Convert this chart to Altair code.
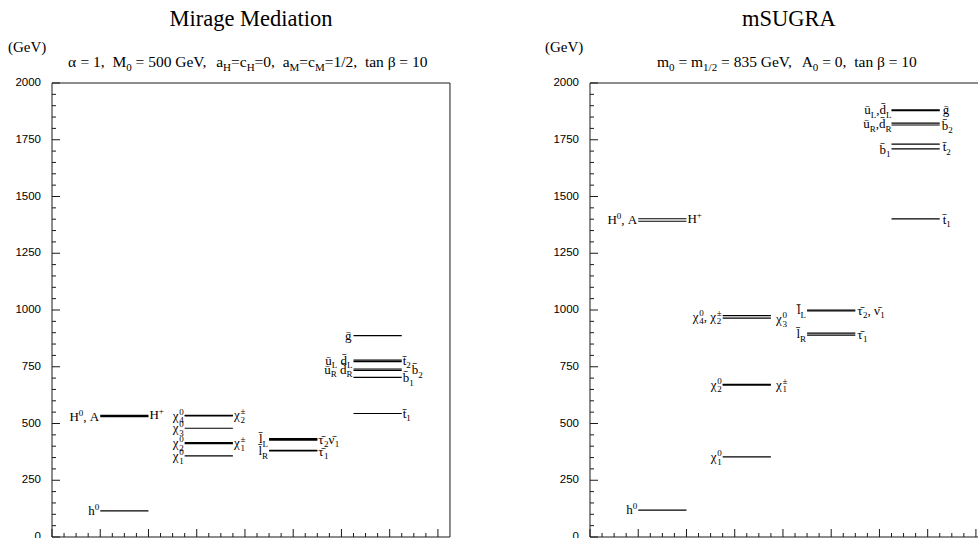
import unicodedata

import altair as alt
import pandas as pd

# ---------------------------------------------------------------- axes
Y_MAJOR = [0, 250, 500, 750, 1000, 1250, 1500, 1750, 2000]
Y_MINOR = [v for v in range(0, 2001, 50) if v % 250]
X_MAJOR = [0, 1, 2, 3, 4, 5, 6, 7, 8]
X_MINOR = [q / 4 for q in range(33) if q % 4]
PANEL_SPAN = 8.25          # x extent of one spectrum frame

# x spans of the four particle columns
GROUP_SPAN = {"higgs": (1.0, 2.0), "ino": (2.75, 3.75),
              "slepton": (4.5, 5.5), "squark": (6.25, 7.25)}

# ---------------------------------------------------------------- spectra (GeV)
MM_GROUP = ["higgs"] * 3 + ["ino"] * 6 + ["slepton"] * 5 + ["squark"] * 7
MM_MASS = [115, 530, 536,
           536, 534, 479, 416, 411, 357,
           433, 430, 427, 382, 379,
           887, 779, 773, 740, 734, 703, 544]

MS_GROUP = ["higgs"] * 3 + ["ino"] * 5 + ["slepton"] * 4 + ["squark"] * 7
MS_MASS = [118, 1402, 1391,
           975, 964, 672, 669, 353,
           1000, 996, 898, 889,
           1882, 1878, 1823, 1815, 1731, 1710, 1401]

SP = "\u0304"  # superpartner bar over a letter

# level labels: (column, side, mass, pieces, gap px); pieces are
# (text, style) with n = normal, b = subscript, p = superscript,
# P = superscript stacked over the following subscript
MM_LABELS = [
    ("higgs", "L", 115, [("h", "n"), ("0", "p")], 1),
    ("higgs", "L", 530, [("H", "n"), ("0", "p"), (", A", "n")], 1),
    ("higgs", "R", 536, [("H", "n"), ("+", "p")], 1),
    ("ino", "L", 535, [("χ", "n"), ("0", "P"), ("4", "b")], 1),
    ("ino", "L", 479, [("χ", "n"), ("0", "P"), ("3", "b")], 1),
    ("ino", "L", 413, [("χ", "n"), ("0", "P"), ("2", "b")], 1),
    ("ino", "L", 355, [("χ", "n"), ("0", "P"), ("1", "b")], 1),
    ("ino", "R", 536, [("χ", "n"), ("±", "P"), ("2", "b")], 1),
    ("ino", "R", 413, [("χ", "n"), ("±", "P"), ("1", "b")], 1),
    ("slepton", "L", 431, [("l" + SP, "n"), ("L", "b")], 1),
    ("slepton", "L", 378, [("l" + SP, "n"), ("R", "b")], 1),
    ("slepton", "R", 429, [("τ" + SP, "n"), ("2", "b"), ("ν" + SP, "n"), ("1", "b")], 1),
    ("slepton", "R", 375, [("τ" + SP, "n"), ("1", "b")], 1),
    ("squark", "L", 887, [("g" + SP, "n")], 2),
    ("squark", "L", 777, [("u" + SP, "n"), ("L", "b"), (" d" + SP, "n"), ("L", "b")], 1),
    ("squark", "L", 737, [("u" + SP, "n"), ("R", "b"), (" d" + SP, "n"), ("R", "b")], 1),
    ("squark", "R", 776, [("t" + SP, "n"), ("2", "b")], 1),
    ("squark", "R", 735, [("b" + SP, "n"), ("2", "b")], 10),
    ("squark", "R", 700, [("b" + SP, "n"), ("1", "b")], 1),
    ("squark", "R", 542, [("t" + SP, "n"), ("1", "b")], 1),
]

MS_LABELS = [
    ("higgs", "L", 118, [("h", "n"), ("0", "p")], 1),
    ("higgs", "L", 1396, [("H", "n"), ("0", "p"), (", A", "n")], 1),
    ("higgs", "R", 1399, [("H", "n"), ("+", "p")], 1),
    ("ino", "L", 970, [("χ", "n"), ("0", "P"), ("4", "b"), (", ", "n"),
                       ("χ", "n"), ("±", "P"), ("2", "b")], 1),
    ("ino", "R", 960, [("χ", "n"), ("0", "P"), ("3", "b")], 5),
    ("ino", "L", 670, [("χ", "n"), ("0", "P"), ("2", "b")], 1),
    ("ino", "R", 670, [("χ", "n"), ("±", "P"), ("1", "b")], 5),
    ("ino", "L", 352, [("χ", "n"), ("0", "P"), ("1", "b")], 1),
    ("slepton", "L", 998, [("l" + SP, "n"), ("L", "b")], 1),
    ("slepton", "R", 996, [("τ" + SP, "n"), ("2", "b"), (", ν" + SP, "n"), ("1", "b")], 2),
    ("slepton", "L", 893, [("l" + SP, "n"), ("R", "b")], 1),
    ("slepton", "R", 890, [("τ" + SP, "n"), ("1", "b")], 2),
    ("squark", "L", 1880, [("u" + SP, "n"), ("L", "b"), (",d" + SP, "n"), ("L", "b")], 0),
    ("squark", "L", 1819, [("u" + SP, "n"), ("R", "b"), (",d" + SP, "n"), ("R", "b")], 0),
    ("squark", "L", 1706, [("b" + SP, "n"), ("1", "b")], 1),
    ("squark", "R", 1882, [("g" + SP, "n")], 3),
    ("squark", "R", 1812, [("b" + SP, "n"), ("2", "b")], 2),
    ("squark", "R", 1716, [("t" + SP, "n"), ("2", "b")], 3),
    ("squark", "R", 1398, [("t" + SP, "n"), ("1", "b")], 3),
]

TITLES = ["Mirage Mediation", "mSUGRA"]
SUBTITLES = [
    [("α = 1,  M", "n"), ("0", "b"), (" = 500 GeV,  a", "n"), ("H", "b"), ("=c", "n"),
     ("H", "b"), ("=0,  a", "n"), ("M", "b"), ("=c", "n"), ("M", "b"),
     ("=1/2,  tan β = 10", "n")],
    [("m", "n"), ("0", "b"), (" = m", "n"), ("1/2", "b"), (" = 835 GeV,  A", "n"),
     ("0", "b"), (" = 0,  tan β = 10", "n")],
]
UNIT = "(GeV)"

# ---------------------------------------------------------------- geometry
W, H = 926, 454            # plot area holding both spectra
PPU = 48.24                # px per x unit
PPY = H / 2000.0           # px per GeV
XMAX = W / PPU
OFFSETS = [0.0, 538 / PPU]  # left edge of each spectrum frame (x units)
SERIF = "Liberation Serif"
SANS = "Liberation Sans"

# Times-metric advance widths (em)
ADV = {" ": .25, "(": .333, ")": .333, ",": .25, ".": .25, "/": .278, "=": .564,
       "+": .564, "±": .549, "A": .722, "G": .722, "H": .722, "L": .611, "M": .889,
       "R": .667, "V": .722, "a": .444, "b": .5, "c": .444, "d": .5, "e": .444,
       "g": .5, "h": .5, "l": .278, "m": .778, "n": .5, "t": .278, "u": .5,
       "α": .55, "β": .5, "χ": .5, "τ": .44, "ν": .47}


def adv(ch, size):
    if unicodedata.combining(ch):
        return 0.0
    return ADV.get(ch, 0.5) * size


def lay_out(pieces, big, small):
    """Split rich text into words placed left to right; returns (items, width)."""
    items, x, held = [], 0.0, None
    for txt, st in pieces:
        size = big if st == "n" else small
        style = "p" if st == "P" else st
        cur, word, start = x, "", x
        for ch in txt:
            if ch == " ":
                if word:
                    items.append((start, word, style))
                    word = ""
                cur += adv(ch, size)
            else:
                if not word:
                    start = cur
                word += ch
                cur += adv(ch, size)
        if word:
            items.append((start, word, style))
        w = cur - x
        if st == "P":
            held = w
            continue
        x += max(w, held or 0.0)
        held = None
    return items, x


# ---------------------------------------------------------------- tables
levels, labels, subs, frames, tick_lab = [], [], [], [], []
spectra = [(MM_GROUP, MM_MASS, MM_LABELS), (MS_GROUP, MS_MASS, MS_LABELS)]

for k, (groups, masses, labs) in enumerate(spectra):
    off = OFFSETS[k]
    for g, m in zip(groups, masses):
        x1, x2 = GROUP_SPAN[g]
        levels.append({"x": off + x1, "x2": off + x2, "y": m})
    for g, side, m, pieces, gap in labs:
        x1, x2 = GROUP_SPAN[g]
        items, tot = lay_out(pieces, 13, 9)
        start = x1 * PPU - gap - tot if side == "L" else x2 * PPU + gap
        for px, txt, st in items:
            labels.append({"x": off + (start + px) / PPU, "y": m, "t": txt, "s": st})
    # subtitle line
    items, _ = lay_out(SUBTITLES[k], 15.5, 11)
    start = [16, 67][k]
    for px, txt, st in items:
        subs.append({"x": off + (start + px) / PPU, "t": txt, "s": st})

    # frame (left, bottom, top, and right where it fits)
    span = min(PANEL_SPAN, XMAX - off)
    frames += [
        {"x": off, "x2": off, "y": 0, "y2": 2000},
        {"x": off, "x2": off + span, "y": 0, "y2": 0},
        {"x": off, "x2": off + span, "y": 2000, "y2": 2000},
    ]
    if span == PANEL_SPAN:
        frames.append({"x": off + span, "x2": off + span, "y": 0, "y2": 2000})
    # inward ticks
    for v in Y_MAJOR:
        frames.append({"x": off, "x2": off + 8 / PPU, "y": v, "y2": v})
        tick_lab.append({"x": off, "y": v, "t": str(v)})
    for v in Y_MINOR:
        frames.append({"x": off, "x2": off + 4 / PPU, "y": v, "y2": v})
    for v in X_MAJOR:
        frames.append({"x": off + v, "x2": off + v, "y": 0, "y2": 8 / PPY})
    for v in X_MINOR:
        frames.append({"x": off + v, "x2": off + v, "y": 0, "y2": 4 / PPY})

heads = pd.DataFrame({"x": [OFFSETS[0] + PANEL_SPAN / 2, OFFSETS[1] + PANEL_SPAN / 2],
                      "t": TITLES})
units = pd.DataFrame({"x": [OFFSETS[0] - 44 / PPU, OFFSETS[1] - 45 / PPU], "t": [UNIT, UNIT]})

levels = pd.DataFrame(levels)
labels = pd.DataFrame(labels)
subs = pd.DataFrame(subs)
frames = pd.DataFrame(frames)
tick_lab = pd.DataFrame(tick_lab)

xs = alt.Scale(domain=[0, XMAX], nice=False, zero=False)
ys = alt.Scale(domain=[0, 2000], nice=False, zero=False)


def X(f):
    return alt.X(f, type="quantitative", scale=xs, axis=None)


def Y(f):
    return alt.Y(f, type="quantitative", scale=ys, axis=None)


frame_layer = alt.Chart(frames).mark_rule(color="#1a1a1a", strokeWidth=1).encode(
    x=X("x"), x2="x2", y=Y("y"), y2="y2")

level_layer = alt.Chart(levels).mark_rule(color="black", strokeWidth=1.2).encode(
    x=X("x"), x2="x2", y=Y("y"))

tick_text = alt.Chart(tick_lab).mark_text(
    align="right", baseline="middle", dx=-11, font=SANS, fontSize=11.5, color="black"
).encode(x=X("x"), y=Y("y"), text="t:N")

label_layers = []
for st, size, dy in [("n", 13, 4), ("b", 9, 7.5), ("p", 9, -1)]:
    part = labels[labels["s"] == st]
    label_layers.append(alt.Chart(part).mark_text(
        align="left", baseline="alphabetic", dy=dy, font=SERIF, fontSize=size, color="black"
    ).encode(x=X("x"), y=Y("y"), text="t:N"))

sub_layers = []
for st, size, dy in [("n", 15.5, 0), ("b", 11, 4)]:
    part = subs[subs["s"] == st]
    sub_layers.append(alt.Chart(part).mark_text(
        align="left", baseline="alphabetic", dy=dy, font=SERIF, fontSize=size, color="black"
    ).encode(x=X("x"), y=alt.value(-16.5), text="t:N"))

head_layer = alt.Chart(heads).mark_text(
    align="center", baseline="alphabetic", font=SERIF, fontSize=22.5, color="black"
).encode(x=X("x"), y=alt.value(-57), text="t:N")

unit_layer = alt.Chart(units).mark_text(
    align="left", baseline="alphabetic", font=SERIF, fontSize=15, color="black"
).encode(x=X("x"), y=alt.value(-31), text="t:N")

chart = alt.layer(
    frame_layer, level_layer, tick_text, *label_layers, *sub_layers, head_layer, unit_layer
).properties(
    width=W, height=H,
    autosize=alt.AutoSizeParams(type="none"),
    padding={"left": 52, "top": 83, "right": 0, "bottom": 1},
    background="white",
).configure_view(stroke=None)

chart.save("out.html", embed_options={"renderer": "svg", "actions": False})
